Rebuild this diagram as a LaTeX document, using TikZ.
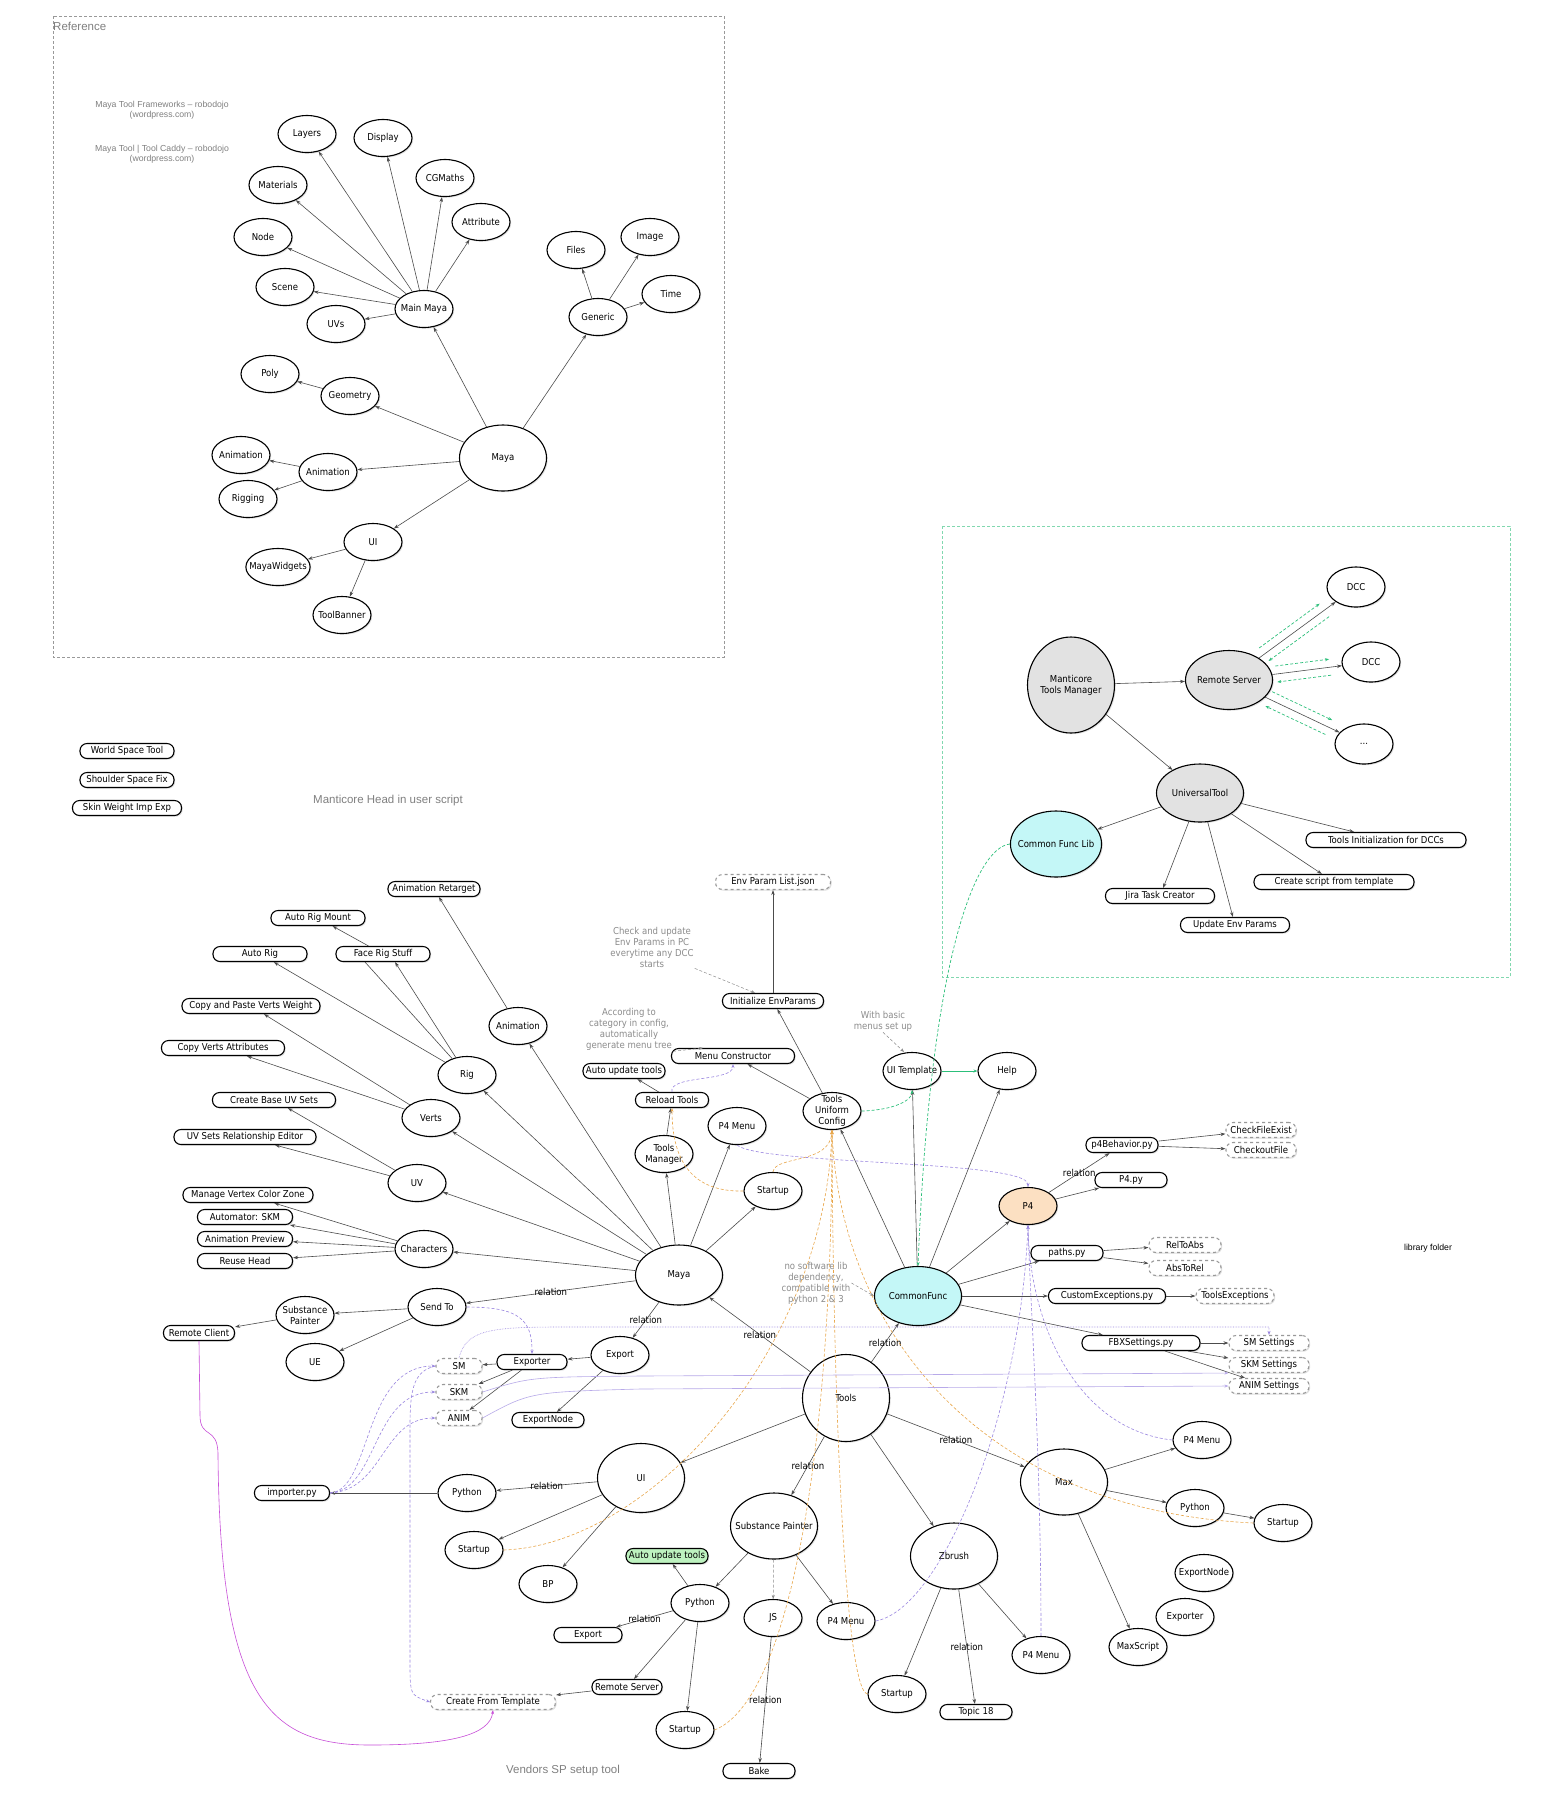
\documentclass[tikz,border=0pt]{standalone}
\usepackage{fontspec}
\setmainfont{DejaVu Sans Condensed}
\newfontfamily\labelfont{Liberation Sans}
\usetikzlibrary{shapes.geometric,arrows.meta,shadows,positioning}

\definecolor{cfill}{HTML}{C4F7F7}
\definecolor{gfill}{HTML}{E2E2E2}
\definecolor{pfill}{HTML}{FCE0C2}
\definecolor{lgfill}{HTML}{BDF2BF}
\definecolor{orln}{HTML}{E8A64A}
\definecolor{puln}{HTML}{9A86E0}
\definecolor{grln}{HTML}{2CBF7A}
\definecolor{mgln}{HTML}{C84FD8}
\definecolor{notegray}{HTML}{8C8C8C}

\newcommand{\nd}{\fontsize{9.5}{11}\selectfont}

\tikzset{
  bub/.style={ellipse, draw, line width=1.1pt, fill=white, minimum width=58pt, minimum height=37pt,
    inner xsep=-6pt, inner ysep=-3pt, align=center, font=\nd, drop shadow={opacity=.25, shadow xshift=1.2pt, shadow yshift=-1.2pt}},
  big/.style={bub, minimum width=87pt, minimum height=66pt},
  pill/.style={rectangle, rounded corners=7pt, draw, line width=1.1pt, fill=white, minimum height=15pt,
    minimum width=#1, inner xsep=3pt, inner ysep=1pt, font=\nd, drop shadow={opacity=.25, shadow xshift=1.2pt, shadow yshift=-1.2pt}},
  pill/.default=70pt,
  dpill/.style={pill=#1, draw=black!40, dashed},
  dpill/.default=70pt,
  link/.style={-{Stealth[length=5pt,width=3.5pt]}, draw=black!70, line width=0.6pt},
  orng/.style={-{Stealth[length=4pt,width=3pt]}, draw=orln, densely dashed, line width=0.6pt},
  purp/.style={-{Stealth[length=4pt,width=3pt]}, draw=puln, densely dashed, line width=0.6pt},
  grn/.style={-{Stealth[length=4pt,width=3pt]}, draw=grln, densely dashed, line width=0.7pt},
  mag/.style={-{Stealth[length=4pt,width=3pt]}, draw=mgln, line width=0.6pt},
  pointer/.style={-{Stealth[length=4pt,width=3pt]}, draw=black!45, densely dashed, line width=0.5pt},
  rel/.style={font=\nd, inner sep=1pt},
  note/.style={font=\nd, text=notegray, align=center, inner sep=1pt},
  bignote/.style={font=\labelfont\fontsize{11.5}{13}\selectfont, text=black!50},
}

\begin{document}
\begin{tikzpicture}[x=1pt, y=-1pt]
    \fill[white] (0,0) rectangle (1542,1800);
    \useasboundingbox (0,0) rectangle (1542,1800);

    % reference part
    \draw[black!40, densely dashed] (53,16) rectangle (724,657);
    \node[bignote, anchor=west, inner sep=0pt] (reftitle) at (53,26) {Reference};
    \node[font=\labelfont\fontsize{8.7}{10.5}\selectfont, text=black!50, align=center] (site1) at (162,110) {Maya Tool Frameworks – robodojo\\(wordpress.com)};
    \node[font=\labelfont\fontsize{8.7}{10.5}\selectfont, text=black!50, align=center] (site2) at (162,154) {Maya Tool | Tool Caddy – robodojo\\(wordpress.com)};

    \node[bub] (tLayers) at (307,134) {Layers};
    \node[bub] (tDisplay) at (383,138) {Display};
    \node[bub] (tMaterials) at (278,185) {Materials};
    \node[bub] (tCGMaths) at (445,178) {CGMaths};
    \node[bub] (tAttribute) at (481,222) {Attribute};
    \node[bub] (tNode) at (263,237) {Node};
    \node[bub] (tScene) at (285,287) {Scene};
    \node[bub] (tMainMaya) at (424,309) {Main Maya};
    \node[bub] (tUVs) at (336,324) {UVs};
    \node[bub] (tFiles) at (576,250) {Files};
    \node[bub] (tImage) at (650,237) {Image};
    \node[bub] (tTime) at (671,294) {Time};
    \node[bub] (tGeneric) at (598,317) {Generic};
    \node[bub] (tPoly) at (270,374) {Poly};
    \node[bub] (tGeometry) at (350,396) {Geometry};
    \node[big] (tMaya) at (503,458) {Maya};
    \node[bub] (tAnimB) at (241,455) {Animation};
    \node[bub] (tAnimA) at (328,472) {Animation};
    \node[bub] (tRigging) at (248,499) {Rigging};
    \node[bub] (tUI) at (373,542) {UI};
    \node[bub] (tMayaWidgets) at (278,567) {MayaWidgets};
    \node[bub] (tToolBanner) at (342,615) {ToolBanner};

    \draw[link] (tMainMaya) -- (tLayers);
    \draw[link] (tMainMaya) -- (tDisplay);
    \draw[link] (tMainMaya) -- (tMaterials);
    \draw[link] (tMainMaya) -- (tCGMaths);
    \draw[link] (tMainMaya) -- (tAttribute);
    \draw[link] (tMainMaya) -- (tNode);
    \draw[link] (tMainMaya) -- (tScene);
    \draw[link] (tMainMaya) -- (tUVs);
    \draw[link] (tMaya) -- (tMainMaya);
    \draw[link] (tMaya) -- (tGeneric);
    \draw[link] (tMaya) -- (tGeometry);
    \draw[link] (tMaya) -- (tAnimA);
    \draw[link] (tMaya) -- (tUI);
    \draw[link] (tGeneric) -- (tFiles);
    \draw[link] (tGeneric) -- (tImage);
    \draw[link] (tGeneric) -- (tTime);
    \draw[link] (tGeometry) -- (tPoly);
    \draw[link] (tAnimA) -- (tAnimB);
    \draw[link] (tAnimA) -- (tRigging);
    \draw[link] (tUI) -- (tMayaWidgets);
    \draw[link] (tUI) -- (tToolBanner);

    % loose tools
    \node[pill=94pt] (wst) at (127,751) {World Space Tool};
    \node[pill=94pt, below of=wst, node distance=29pt] (ssf) {Shoulder Space Fix};
    \node[pill=109pt, below of=ssf, node distance=28pt] (swie) {Skin Weight Imp Exp};
    \node[bignote] (headnote) at (388,801) {Manticore Head in user script};

    % manticore tools manager
    \draw[grln!60, densely dashed] (942,526) rectangle (1510,977);
    \node[big, fill=gfill, minimum height=96pt] (mgr) at (1071,685) {Manticore\\Tools Manager};
    \node[big, fill=gfill, minimum height=59pt] (rsrv) at (1229,680) {Remote Server};
    \node[bub, minimum height=40pt] (dccA) at (1356,587) {DCC};
    \node[bub, minimum height=40pt] (dccB) at (1371,662) {DCC};
    \node[bub, minimum height=40pt] (dccC) at (1364,744) {...};
    \node[big, fill=gfill, minimum height=58pt] (utool) at (1200,793) {UniversalTool};
    \node[big, fill=cfill] (cflib) at (1056,844) {Common Func Lib};
    \node[pill=160pt] (tinit) at (1386,840) {Tools Initialization for DCCs};
    \node[pill=160pt] (cscript) at (1334,882) {Create script from template};
    \node[pill=109pt] (jira) at (1160,896) {Jira Task Creator};
    \node[pill=109pt] (uenv) at (1235,925) {Update Env Params};

    \draw[link] (mgr) -- (rsrv);
    \draw[link] (mgr) -- (utool);
    \draw[link] (rsrv) -- (dccA);
    \draw[link] (rsrv) -- (dccB);
    \draw[link] (rsrv) -- (dccC);
    \draw[grn, shorten <=6pt, shorten >=14pt, transform canvas={shift={(-4.7pt,6.5pt)}}] (rsrv) -- (dccA);
    \draw[grn, shorten <=14pt, shorten >=6pt, transform canvas={shift={(4.7pt,-6.5pt)}}] (dccA) -- (rsrv);
    \draw[grn, shorten <=4pt, shorten >=12pt, transform canvas={shift={(-1pt,8pt)}}] (rsrv) -- (dccB);
    \draw[grn, shorten <=12pt, shorten >=4pt, transform canvas={shift={(1pt,-8pt)}}] (dccB) -- (rsrv);
    \draw[grn, shorten <=4pt, shorten >=12pt, transform canvas={shift={(3.4pt,7.2pt)}}] (rsrv) -- (dccC);
    \draw[grn, shorten <=12pt, shorten >=4pt, transform canvas={shift={(-3.4pt,-7.2pt)}}] (dccC) -- (rsrv);
    \draw[link] (utool) -- (cflib);
    \draw[link] (utool) -- (tinit);
    \draw[link] (utool) -- (cscript);
    \draw[link] (utool) -- (jira);
    \draw[link] (utool) -- (uenv);

    % maya side
    \node[dpill=115pt] (envjson) at (773,882) {Env Param List.json};
    \node[note] (chktxt) at (652,947) {Check and update\\Env Params in PC\\everytime any DCC\\starts};
    \node[pill=101pt] (initenv) at (773,1001) {Initialize EnvParams};
    \node[note] (acctxt) at (629,1029) {According to\\category in config,\\automatically\\generate menu tree};
    \node[pill=123pt] (menucon) at (733,1056) {Menu Constructor};
    \node[pill=80pt] (autoupd) at (624,1071) {Auto update tools};
    \node[pill=73pt] (reload) at (672,1100) {Reload Tools};
    \node[bub] (tmgr) at (664,1154) {Tools\\Manager};
    \node[bub] (mP4Menu) at (737,1126) {P4 Menu};
    \node[bub] (mStartup) at (773,1191) {Startup};
    \node[bub] (tuc) at (832,1111) {Tools\\Uniform\\Config};
    \node[note] (basictxt) at (883,1021) {With basic\\menus set up};
    \node[bub] (uitmpl) at (912,1071) {UI Template};
    \node[bub] (help) at (1007,1071) {Help};

    \node[big, minimum height=60pt] (maya) at (679,1275) {Maya};
    \node[bub] (anim) at (518,1026) {Animation};
    \node[pill=92pt] (animret) at (434,889) {Animation Retarget};
    \node[pill=94pt] (arigm) at (318,918) {Auto Rig Mount};
    \node[pill=94pt] (arig) at (260,954) {Auto Rig};
    \node[pill=94pt] (frig) at (383,954) {Face Rig Stuff};
    \node[bub] (rig) at (467,1075) {Rig};
    \node[pill=138pt] (cpvw) at (251,1006) {Copy and Paste Verts Weight};
    \node[pill=123pt] (cva) at (223,1048) {Copy Verts Attributes};
    \node[bub] (verts) at (431,1118) {Verts};
    \node[pill=123pt] (cbuv) at (274,1100) {Create Base UV Sets};
    \node[pill=142pt] (uvsre) at (245,1137) {UV Sets Relationship Editor};
    \node[bub] (uv) at (417,1183) {UV};
    \node[pill=130pt] (mvcz) at (248,1195) {Manage Vertex Color Zone};
    \node[pill=95pt] (askm) at (245,1217) {Automator: SKM};
    \node[pill=95pt, below of=askm, node distance=22pt] (aprev) {Animation Preview};
    \node[pill=95pt, below of=aprev, node distance=22pt] (rhead) {Reuse Head};
    \node[bub] (chars) at (424,1249) {Characters};
    \node[bub] (sendto) at (437,1307) {Send To};
    \node[bub] (spL) at (305,1315) {Substance\\Painter};
    \node[pill=71pt] (rclient) at (199,1333) {Remote Client};
    \node[bub] (ue) at (315,1362) {UE};
    \node[bub] (export) at (620,1355) {Export};
    \node[pill=70pt] (exporter) at (532,1362) {Exporter};
    \node[pill=72pt] (expnode) at (548,1420) {ExportNode};
    \node[dpill=46pt] (sm) at (459,1366) {SM};
    \node[dpill=46pt, below of=sm, node distance=26pt] (skm) {SKM};
    \node[dpill=46pt, below of=skm, node distance=26pt] (animx) {ANIM};

    % common func
    \node[big, fill=cfill, minimum height=59pt] (cfunc) at (918,1296) {CommonFunc};
    \node[note] (nosoft) at (816,1283) {no software lib\\dependency,\\compatible with\\python 2 \& 3};
    \node[bub, fill=pfill] (p4) at (1028,1206) {P4};
    \node[pill=72pt] (p4beh) at (1122,1145) {p4Behavior.py};
    \node[pill=72pt] (p4py) at (1131,1180) {P4.py};
    \node[dpill=70pt] (chkfile) at (1261,1130) {CheckFileExist};
    \node[dpill=70pt, below of=chkfile, node distance=20pt] (chkout) {CheckoutFile};
    \node[pill=72pt] (paths) at (1067,1253) {paths.py};
    \node[dpill=72pt] (rel2abs) at (1185,1245) {RelToAbs};
    \node[dpill=72pt, below of=rel2abs, node distance=23pt] (abs2rel) {AbsToRel};
    \node[pill=117pt] (custexc) at (1107,1296) {CustomExceptions.py};
    \node[dpill=78pt] (toolsexc) at (1235,1296) {ToolsExceptions};
    \node[pill=118pt] (fbx) at (1141,1343) {FBXSettings.py};
    \node[dpill=80pt] (smset) at (1269,1343) {SM Settings};
    \node[dpill=80pt, below of=smset, node distance=22pt] (skmset) {SKM Settings};
    \node[dpill=80pt, below of=skmset, node distance=21pt] (animset) {ANIM Settings};
    \node[font=\labelfont\fontsize{8.7}{10}\selectfont] (libtxt) at (1428,1248) {library folder};

    % tools
    \node[big, minimum height=87pt] (tools) at (846,1398) {Tools};
    \node[big, minimum height=69pt] (ui) at (641,1478) {UI};
    \node[bub] (pyL) at (467,1493) {Python};
    \node[pill=75pt] (importer) at (292,1493) {importer.py};
    \node[bub] (stL) at (474,1550) {Startup};
    \node[bub] (bp) at (548,1584) {BP};
    \node[big, inner xsep=-12pt] (sp) at (774,1526) {Substance Painter};
    \node[pill=78pt, fill=lgfill] (autoupdG) at (667,1556) {Auto update tools};
    \node[bub] (pySP) at (700,1603) {Python};
    \node[bub] (js) at (773,1618) {JS};
    \node[bub] (p4mSP) at (846,1621) {P4 Menu};
    \node[pill=68pt] (exportSP) at (588,1635) {Export};
    \node[pill=70pt] (rsrvSP) at (627,1687) {Remote Server};
    \node[dpill=125pt] (cft) at (493,1702) {Create From Template};
    \node[bub] (stSP) at (685,1730) {Startup};
    \node[pill=72pt] (bake) at (759,1771) {Bake};
    \node[bignote] (vendtxt) at (563,1771) {Vendors SP setup tool};
    \node[big] (zb) at (954,1556) {Zbrush};
    \node[bub] (stZB) at (897,1694) {Startup};
    \node[pill=72pt] (topic) at (976,1712) {Topic 18};
    \node[bub] (p4mZB) at (1041,1655) {P4 Menu};
    \node[big] (max) at (1064,1482) {Max};
    \node[bub] (p4mMax) at (1202,1440) {P4 Menu};
    \node[bub] (pyMax) at (1195,1508) {Python};
    \node[bub] (stMax) at (1283,1523) {Startup};
    \node[bub] (expnodeMax) at (1204,1573) {ExportNode};
    \node[bub] (exporterMax) at (1185,1617) {Exporter};
    \node[bub] (maxscript) at (1138,1647) {MaxScript};

    \draw[link] (initenv) -- (envjson);
    \draw[pointer] (chktxt.south east) -- ([xshift=-18pt]initenv.north);
    \draw[pointer] (acctxt.south east) -- ([xshift=-30pt]menucon.north);
    \draw[pointer] (basictxt.south) -- ([xshift=-8pt]uitmpl.north);
    \draw[pointer] (nosoft.east) -- (cfunc.west);
    \draw[link] (tuc) -- (initenv);
    \draw[link] (tuc) -- (menucon);
    \draw[link] (reload) -- (autoupd);
    \draw[link] (tmgr) -- (reload);
    \draw[link] (maya) -- (tmgr);
    \draw[link] (maya) -- (mP4Menu);
    \draw[link] (maya) -- (mStartup);
    \draw[link] (maya) -- (anim);
    \draw[link] (maya) -- (rig);
    \draw[link] (maya) -- (verts);
    \draw[link] (maya) -- (uv);
    \draw[link] (maya) -- (chars);
    \draw[link] (maya) -- node[rel] {relation} (sendto);
    \draw[link] (maya) -- node[rel] {relation} (export);
    \draw[link] (anim) -- (animret);
    \draw[link] (rig) -- (arig);
    \draw[link] (rig) -- ([xshift=12pt]frig.south);
    \draw[draw=black!70, line width=0.6pt] (rig) -- ([xshift=-18pt]frig.south);
    \draw[link] (frig) -- (arigm);
    \draw[link] (verts) -- (cpvw);
    \draw[link] (verts) -- (cva);
    \draw[link] (uv) -- (cbuv);
    \draw[link] (uv) -- (uvsre);
    \draw[link] (chars) -- (mvcz);
    \draw[link] (chars) -- (askm);
    \draw[link] (chars) -- (aprev);
    \draw[link] (chars) -- (rhead);
    \draw[link] (sendto) -- (spL);
    \draw[link] (sendto) -- (ue);
    \draw[link] (spL) -- (rclient);
    \draw[link] (export) -- (exporter);
    \draw[link] (export) -- (expnode);
    \draw[link] (exporter) -- (sm);
    \draw[link] (exporter) -- (skm);
    \draw[link] (exporter) -- (animx);

    \draw[link] (tools) -- node[rel] {relation} (maya);
    \draw[link] (tools) -- node[rel] {relation} (cfunc);
    \draw[link] (tools) -- (ui);
    \draw[link] (tools) -- node[rel] {relation} (sp);
    \draw[link] (tools) -- (zb);
    \draw[link] (tools) -- node[rel] {relation} (max);
    \draw[link] (ui) -- node[rel] {relation} (pyL);
    \draw[link] (ui) -- (stL);
    \draw[link] (ui) -- (bp);
    \draw[link] (pyL) -- (importer);
    \draw[link] (sp) -- (pySP);
    \draw[link] (sp) -- (p4mSP);
    \draw[pointer] (sp) -- (js);
    \draw[link] (pySP) -- (autoupdG);
    \draw[link] (pySP) -- node[rel] {relation} (exportSP);
    \draw[link] (pySP) -- (rsrvSP);
    \draw[link] (pySP) -- (stSP);
    \draw[link] (rsrvSP) -- (cft);
    \draw[link] (js) -- node[rel] {relation} (bake);
    \draw[link] (zb) -- (stZB);
    \draw[link] (zb) -- node[rel] {relation} (topic);
    \draw[link] (zb) -- (p4mZB);
    \draw[link] (max) -- (p4mMax);
    \draw[link] (max) -- (pyMax);
    \draw[link] (max) -- (maxscript);
    \draw[link] (pyMax) -- (stMax);

    \draw[link] (cfunc) -- (tuc);
    \draw[link] (cfunc) -- (uitmpl);
    \draw[link] (cfunc) -- (help);
    \draw[link] (cfunc) -- (p4);
    \draw[link] (cfunc) -- (paths);
    \draw[link] (cfunc) -- (custexc);
    \draw[link] (cfunc) -- (fbx);
    \draw[link] (p4) -- node[rel] {relation} (p4beh);
    \draw[link] (p4) -- (p4py);
    \draw[link] (p4beh) -- (chkfile);
    \draw[link] (p4beh) -- (chkout);
    \draw[link] (paths) -- (rel2abs);
    \draw[link] (paths) -- (abs2rel);
    \draw[link] (custexc) -- (toolsexc);
    \draw[link] (fbx) -- (smset);
    \draw[link] (fbx) -- (skmset);
    \draw[link] (fbx) -- (animset);

    % startups into the config
    \draw[orng] (mStartup.north) .. controls (775,1155) and (830,1165) .. (tuc.south);
    \draw[orng] (mStartup.west) .. controls (700,1192) and (672,1170) .. (reload.south);
    \draw[orng] (stL.east) .. controls (650,1545) and (825,1350) .. (tuc.south);
    \draw[orng] (stSP.east) .. controls (790,1700) and (832,1450) .. (tuc.south);
    \draw[orng] (stZB.west) .. controls (845,1690) and (833,1400) .. (tuc.south);
    \draw[orng] (stMax.west) .. controls (980,1510) and (840,1330) .. (tuc.south);

    % p4 menus
    \draw[purp] (mP4Menu.south) .. controls (760,1165) and (1028,1160) .. (p4.north);
    \draw[purp] (p4mSP.east) .. controls (940,1610) and (1020,1420) .. (p4.south);
    \draw[purp] (p4mZB.north) .. controls (1041,1450) and (1030,1300) .. (p4.south);
    \draw[purp] (p4mMax.west) .. controls (1080,1430) and (1030,1330) .. (p4.south);
    \draw[purp] (reload.north) .. controls (668,1075) and (733,1082) .. (menucon.south);
    \draw[purp] (sendto.east) .. controls (520,1307) and (532,1320) .. (exporter.north);
    \draw[purp] (importer.east) .. controls (372,1490) and (362,1366) .. (sm.west);
    \draw[purp] (importer.east) .. controls (378,1490) and (372,1392) .. (skm.west);
    \draw[purp] (importer.east) .. controls (384,1490) and (382,1418) .. (animx.west);
    \draw[purp, densely dotted] (sm.north) .. controls (466,1330) and (490,1327) .. (560,1327) -| (smset.north);
    \draw[purp, solid, draw=puln!70] (skm.east) .. controls (530,1377) .. (640,1376) -- (skmset.south west);
    \draw[purp, solid, draw=puln!70] (animx.east) .. controls (530,1392) .. (640,1389) -- (animset.west);
    \draw[purp] (sm.west) .. controls (408,1372) and (410,1400) .. (410,1450) -- (410,1660) .. controls (410,1695) .. (cft.west);

    % other links
    \draw[mag] (rclient.south) -- (200,1415) .. controls (200,1440) and (218,1425) .. (218,1455) .. controls (220,1700) and (270,1745) .. (370,1745) .. controls (450,1745) and (490,1735) .. (cft.south);
    \draw[grn] (cflib.west) .. controls (975,848) and (930,960) .. (cfunc.north);
    \draw[grn] (tuc.east) .. controls (895,1110) and (912,1100) .. (uitmpl.south);
    \draw[grn, solid] (uitmpl) -- (help);

\end{tikzpicture}
\end{document}
